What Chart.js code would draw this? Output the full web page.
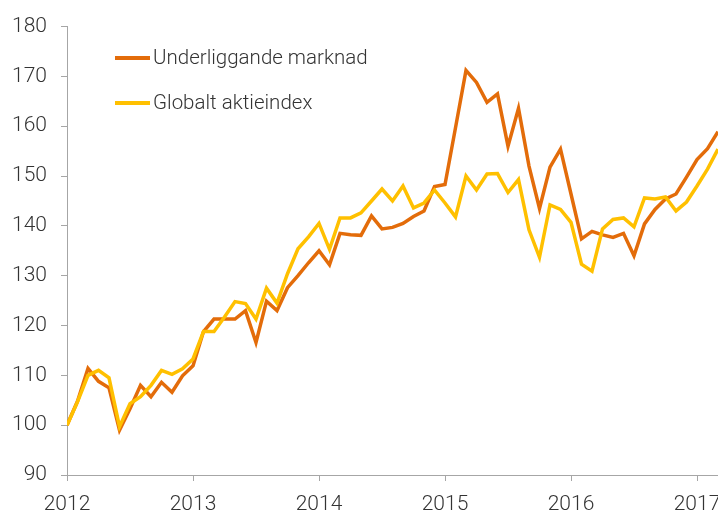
<!DOCTYPE html>
<html>
<head>
<meta charset="utf-8">
<script src="https://cdn.jsdelivr.net/npm/chart.js@4.4.1/dist/chart.umd.min.js"></script>
<style>
  html, body { margin: 0; padding: 0; background: #fff; overflow: hidden; }
  #wrap { position: relative; width: 718px; height: 510px; overflow: hidden; }
  #box { position: absolute; left: 0; top: 0; width: 760px; height: 510px; }
  .leg { position: absolute; left: 115px; font: 300 20.5px Roboto, sans-serif; color: #333; white-space: nowrap; }
  .leg span { display: inline-block; width: 35px; height: 4px; vertical-align: middle; margin-right: 3px; position: relative; top: -1px; }
</style>
</head>
<body>
<div id="wrap">
  <div id="box"><canvas id="chart" width="760" height="510"></canvas></div>
  <div class="leg" style="top:45px"><span style="background:#e36c0a"></span>Underliggande marknad</div>
  <div class="leg" style="top:90px"><span style="background:#ffc000"></span>Globalt aktieindex</div>
</div>
<script>
// monthly values, Jan 2012 .. Mar 2017 (index = month number)
const yearLabels = ['2012', '2013', '2014', '2015', '2016', '2017'];

const underliggande = [
  100, 104.8, 111.4, 108.8, 107.5, 99, 103.3, 108, 105.7, 108.6, 106.6, 109.9,
  111.9, 118.8, 121.3, 121.3, 121.3, 123, 116.6, 124.9, 123, 127.6, 130, 132.6,
  135, 132.2, 138.5, 138.2, 138.1, 142, 139.4, 139.7, 140.5, 141.9, 143, 147.9,
  148.3, 159.7, 171.2, 168.8, 164.8, 166.5, 156, 163.6, 152, 143.5, 151.8, 155.4,
  146.4, 137.4, 138.9, 138.2, 137.7, 138.5, 134, 140.4, 143.3, 145.4, 146.4, 149.8,
  153.3, 155.5, 158.9
];

const globalt = [
  100, 104.7, 110, 111, 109.5, 99.7, 104.3, 105.7, 108, 111, 110.2, 111.3,
  113.3, 118.8, 118.8, 121.7, 124.8, 124.4, 121.3, 127.5, 124.5, 130.4, 135.4, 137.8,
  140.5, 135.3, 141.6, 141.6, 142.6, 145, 147.4, 145, 148, 143.6, 144.6, 147.2,
  144.6, 141.8, 150, 147.2, 150.4, 150.5, 146.7, 149.3, 139.2, 133.7, 144.2, 143.3,
  140.7, 132.3, 130.9, 139.4, 141.3, 141.6, 139.8, 145.6, 145.4, 145.8, 143, 144.8,
  148, 151.4, 155.4
];

const toPoints = arr => arr.map((v, i) => ({ x: i, y: v }));

const axisColor = '#a6a6a6';
const tickFont = { family: 'Roboto, sans-serif', size: 21, weight: 300 };

new Chart(document.getElementById('chart'), {
  type: 'line',
  data: {
    datasets: [
      {
        label: 'Globalt aktieindex',
        data: toPoints(globalt),
        borderColor: '#ffc000',
        borderWidth: 3.5,
        pointRadius: 0,
        tension: 0,
        order: 0
      },
      {
        label: 'Underliggande marknad',
        data: toPoints(underliggande),
        borderColor: '#e36c0a',
        borderWidth: 3.5,
        pointRadius: 0,
        tension: 0,
        order: 1
      }
    ]
  },
  options: {
    responsive: false,
    animation: false,
    layout: { padding: { top: 25, right: 42, left: 0, bottom: 0 } },
    plugins: { legend: { display: false }, tooltip: { enabled: false } },
    scales: {
      x: {
        type: 'linear',
        min: 0,
        max: underliggande.length - 1,
        afterBuildTicks: scale => {
          scale.ticks = yearLabels.map((y, i) => ({ value: i * 12 }));
        },
        afterFit: scale => { scale.height = 35; },
        grid: { drawOnChartArea: false, drawTicks: true, tickLength: 6, color: axisColor },
        border: { display: true, color: axisColor, width: 1 },
        ticks: {
          font: tickFont,
          color: '#333',
          padding: 11,
          maxRotation: 0,
          autoSkip: false,
          callback: v => yearLabels[v / 12]
        }
      },
      y: {
        min: 90,
        max: 180,
        afterFit: scale => { scale.width = 67; },
        grid: { drawOnChartArea: false, drawTicks: true, tickLength: 6, color: axisColor },
        border: { display: true, color: axisColor, width: 1 },
        ticks: { stepSize: 10, font: tickFont, color: '#333', padding: 14 }
      }
    }
  }
});
</script>
</body>
</html>
